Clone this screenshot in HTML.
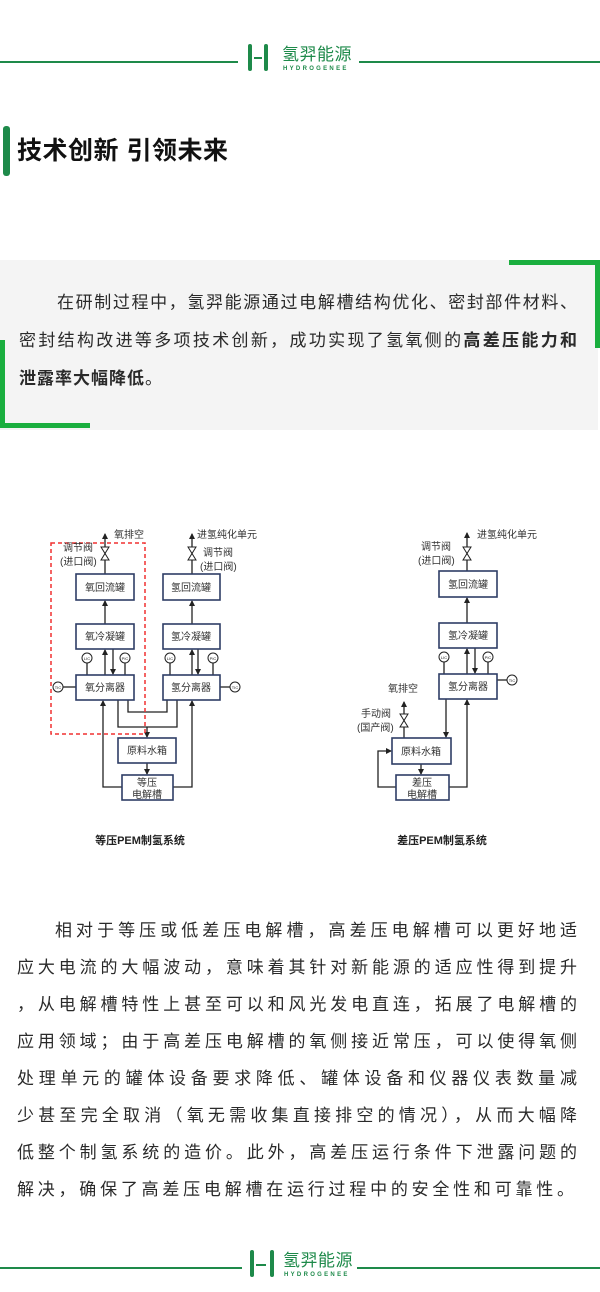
<!DOCTYPE html>
<html><head><meta charset="utf-8">
<style>
*{margin:0;padding:0;box-sizing:border-box}
body{width:600px;height:1292px;background:#fff;position:relative;overflow:hidden;font-family:"Liberation Sans","Noto Sans CJK SC",sans-serif;color:#222}
.abs{position:absolute}
.ln{position:absolute;white-space:nowrap;text-align:justify;text-align-last:justify;font-size:17px;line-height:20px;color:#2a2a2a}
.hl{height:2px;background:#1e8a4a}
.logo-t{color:#1e8a4a;font-size:17px;line-height:19px;letter-spacing:0.5px}
.logo-s{color:#1e8a4a;font-size:6px;font-weight:bold;letter-spacing:2.3px}
</style></head><body>

<!-- header logo -->
<div class="abs hl" style="left:0;top:61px;width:238px"></div>
<div class="abs hl" style="left:359px;top:61px;width:241px"></div>
<div class="abs" style="left:248px;top:44px;width:4px;height:27px;background:#1e8a4a;border-radius:2px"></div>
<div class="abs" style="left:264px;top:44px;width:4px;height:27px;background:#1e8a4a;border-radius:2px"></div>
<div class="abs" style="left:254px;top:57px;width:8px;height:1.5px;background:#1e8a4a"></div>
<div class="abs logo-t" style="left:282px;top:45px">氢羿能源</div>
<div class="abs logo-s" style="left:283px;top:66px">HYDROGENEE</div>

<!-- title -->
<div class="abs" style="left:3px;top:126px;width:7px;height:50px;background:#1e8a4a;border-radius:3px"></div>
<div class="abs" style="left:17px;top:136px;font-size:25px;font-weight:bold;color:#111;line-height:30px;letter-spacing:0.5px">技术创新 引领未来</div>

<!-- grey box -->
<div class="abs" style="left:0;top:260px;width:598px;height:170px;background:#f4f4f4"></div>
<div class="abs" style="left:509px;top:260px;width:91px;height:5px;background:#1aae3e"></div>
<div class="abs" style="left:595px;top:260px;width:5px;height:88px;background:#1aae3e"></div>
<div class="abs" style="left:0;top:340px;width:5px;height:88px;background:#1aae3e"></div>
<div class="abs" style="left:0;top:423px;width:90px;height:5px;background:#1aae3e"></div>
<div class="ln" style="left:57px;top:293px;width:520px">在研制过程中，氢羿能源通过电解槽结构优化、密封部件材料、</div>
<div class="ln" style="left:19px;top:331px;width:558px">密封结构改进等多项技术创新，成功实现了氢氧侧的<b>高差压能力和</b></div>
<div class="ln" style="left:19px;top:369px;text-align:left;text-align-last:left;letter-spacing:1px"><b>泄露率大幅降低</b>。</div>

<!-- diagrams -->
<svg class="abs" style="left:0;top:0" width="600" height="1292" viewBox="0 0 600 1292">
<defs>
<marker id="a" markerWidth="6" markerHeight="6" refX="5" refY="3" orient="auto" markerUnits="userSpaceOnUse"><path d="M0,0 L6,3 L0,6z" fill="#222"/></marker>
</defs>
<g font-family="Liberation Sans,Noto Sans CJK SC,sans-serif" font-size="10" fill="#333">
<!-- LEFT -->
<g stroke="#222" stroke-width="1.3" fill="none">
<line x1="105" y1="574" x2="105" y2="534" marker-end="url(#a)"/>
<line x1="105" y1="624" x2="105" y2="601" marker-end="url(#a)"/>
<line x1="105" y1="675" x2="105" y2="650" marker-end="url(#a)"/>
<line x1="113" y1="649" x2="113" y2="674" marker-end="url(#a)"/>
<line x1="192" y1="574" x2="192" y2="534" marker-end="url(#a)"/>
<line x1="192" y1="624" x2="192" y2="601" marker-end="url(#a)"/>
<line x1="192" y1="675" x2="192" y2="650" marker-end="url(#a)"/>
<line x1="198" y1="649" x2="198" y2="674" marker-end="url(#a)"/>
<polyline points="122,787 103,787 103,701" marker-end="url(#a)"/>
<polyline points="173,787 192,787 192,701" marker-end="url(#a)"/>
<polyline points="128,700 128,712 167,712 167,700"/>
<polyline points="118,700 118,727 177,727 177,700"/>
<line x1="147" y1="727" x2="147" y2="737" marker-end="url(#a)"/>
<line x1="147" y1="763" x2="147" y2="774" marker-end="url(#a)"/>
<line x1="87" y1="663" x2="87" y2="675"/><line x1="125" y1="663" x2="125" y2="675"/>
<line x1="63" y1="687" x2="76" y2="687"/>
<line x1="170" y1="663" x2="170" y2="675"/><line x1="213" y1="663" x2="213" y2="675"/>
<line x1="220" y1="687" x2="230" y2="687"/>
</g>
<g stroke="#2e3d66" stroke-width="1.6" fill="#fff">
<rect x="76" y="574" width="58" height="26"/><rect x="76" y="624" width="58" height="25"/><rect x="76" y="675" width="58" height="25"/>
<rect x="163" y="574" width="57" height="26"/><rect x="163" y="624" width="57" height="25"/><rect x="163" y="675" width="57" height="25"/>
<rect x="118" y="738" width="58" height="25"/><rect x="122" y="775" width="51" height="25"/>
</g>
<g stroke="#222" stroke-width="1" fill="#fff">
<circle cx="87" cy="658" r="5"/><circle cx="125" cy="658" r="5"/><circle cx="58" cy="687" r="5"/>
<circle cx="170" cy="658" r="5"/><circle cx="213" cy="658" r="5"/><circle cx="235" cy="687" r="5"/>
<path d="M101,547 L109,547 L101,560 L109,560z"/><path d="M188,547 L196,547 L188,560 L196,560z"/>
</g>
<rect x="51" y="543" width="94" height="191" fill="none" stroke="#f03030" stroke-width="1.5" stroke-dasharray="4,3"/>
<g font-size="4" text-anchor="middle" fill="#222"><text x="87" y="660">LIC</text><text x="125" y="660">PIC</text><text x="58" y="689">TIC</text><text x="170" y="660">LIC</text><text x="213" y="660">PIC</text><text x="235" y="689">TIC</text></g>
<text x="114" y="538">氧排空</text>
<text x="197" y="538">进氢纯化单元</text>
<text x="63" y="551">调节阀</text><text x="60" y="565">(进口阀)</text>
<text x="203" y="556">调节阀</text><text x="200" y="570">(进口阀)</text>
<g text-anchor="middle"><text x="105" y="591">氧回流罐</text><text x="105" y="640">氧冷凝罐</text><text x="105" y="691">氧分离器</text>
<text x="191" y="591">氢回流罐</text><text x="191" y="640">氢冷凝罐</text><text x="191" y="691">氢分离器</text>
<text x="147" y="754">原料水箱</text><text x="147" y="786">等压</text><text x="147" y="798">电解槽</text>
<text x="140" y="844" font-size="11" font-weight="bold" fill="#222">等压PEM制氢系统</text></g>

<!-- RIGHT -->
<g stroke="#222" stroke-width="1.3" fill="none">
<line x1="467" y1="571" x2="467" y2="533" marker-end="url(#a)"/>
<line x1="467" y1="623" x2="467" y2="598" marker-end="url(#a)"/>
<line x1="467" y1="674" x2="467" y2="649" marker-end="url(#a)"/>
<line x1="475" y1="648" x2="475" y2="673" marker-end="url(#a)"/>
<polyline points="449,787 467,787 467,700" marker-end="url(#a)"/>
<line x1="446" y1="699" x2="446" y2="737" marker-end="url(#a)"/>
<polyline points="396,787 378,787 378,751 391,751" marker-end="url(#a)"/>
<line x1="421" y1="764" x2="421" y2="774" marker-end="url(#a)"/>
<line x1="404" y1="738" x2="404" y2="702" marker-end="url(#a)"/>
<line x1="444" y1="662" x2="444" y2="674"/><line x1="488" y1="662" x2="488" y2="674"/>
<line x1="497" y1="680" x2="507" y2="680"/>
</g>
<g stroke="#2e3d66" stroke-width="1.6" fill="#fff">
<rect x="439" y="571" width="58" height="26"/><rect x="439" y="623" width="58" height="25"/><rect x="439" y="674" width="58" height="25"/>
<rect x="392" y="738" width="59" height="26"/><rect x="396" y="775" width="53" height="25"/>
</g>
<g stroke="#222" stroke-width="1" fill="#fff">
<circle cx="444" cy="657" r="5"/><circle cx="488" cy="657" r="5"/><circle cx="512" cy="680" r="5"/>
<path d="M463,547 L471,547 L463,560 L471,560z"/><path d="M400,714 L408,714 L400,727 L408,727z"/>
</g>
<g font-size="4" text-anchor="middle" fill="#222"><text x="444" y="659">LIC</text><text x="488" y="659">PIC</text><text x="512" y="682">TIC</text></g>
<text x="477" y="538">进氢纯化单元</text>
<text x="421" y="550">调节阀</text><text x="418" y="564">(进口阀)</text>
<text x="388" y="692">氧排空</text>
<text x="361" y="717">手动阀</text><text x="357" y="731">(国产阀)</text>
<g text-anchor="middle"><text x="468" y="588">氢回流罐</text><text x="468" y="639">氢冷凝罐</text><text x="468" y="690">氢分离器</text>
<text x="421" y="755">原料水箱</text><text x="422" y="786">差压</text><text x="422" y="798">电解槽</text>
<text x="442" y="844" font-size="11" font-weight="bold" fill="#222">差压PEM制氢系统</text></g>
</g>
</svg>

<!-- body paragraph -->
<div class="ln" style="left:55px;top:921px;width:522px">相对于等压或低差压电解槽，高差压电解槽可以更好地适</div>
<div class="ln" style="left:17px;top:958px;width:560px">应大电流的大幅波动，意味着其针对新能源的适应性得到提升</div>
<div class="ln" style="left:17px;top:995px;width:560px">，从电解槽特性上甚至可以和风光发电直连，拓展了电解槽的</div>
<div class="ln" style="left:17px;top:1032px;width:560px">应用领域；由于高差压电解槽的氧侧接近常压，可以使得氧侧</div>
<div class="ln" style="left:17px;top:1069px;width:560px">处理单元的罐体设备要求降低、罐体设备和仪器仪表数量减</div>
<div class="ln" style="left:17px;top:1106px;width:560px">少甚至完全取消（氧无需收集直接排空的情况），从而大幅降</div>
<div class="ln" style="left:17px;top:1143px;width:560px">低整个制氢系统的造价。此外，高差压运行条件下泄露问题的</div>
<div class="ln" style="left:17px;top:1180px;width:557px">解决，确保了高差压电解槽在运行过程中的安全性和可靠性。</div>

<!-- footer logo -->
<div class="abs hl" style="left:0;top:1267px;width:242px"></div>
<div class="abs hl" style="left:357px;top:1267px;width:243px"></div>
<div class="abs" style="left:250px;top:1250px;width:4px;height:27px;background:#1e8a4a;border-radius:2px"></div>
<div class="abs" style="left:270px;top:1250px;width:4px;height:27px;background:#1e8a4a;border-radius:2px"></div>
<div class="abs" style="left:256px;top:1264px;width:10px;height:1.5px;background:#1e8a4a"></div>
<div class="abs logo-t" style="left:283px;top:1251px">氢羿能源</div>
<div class="abs logo-s" style="left:284px;top:1272px">HYDROGENEE</div>
</body></html>
